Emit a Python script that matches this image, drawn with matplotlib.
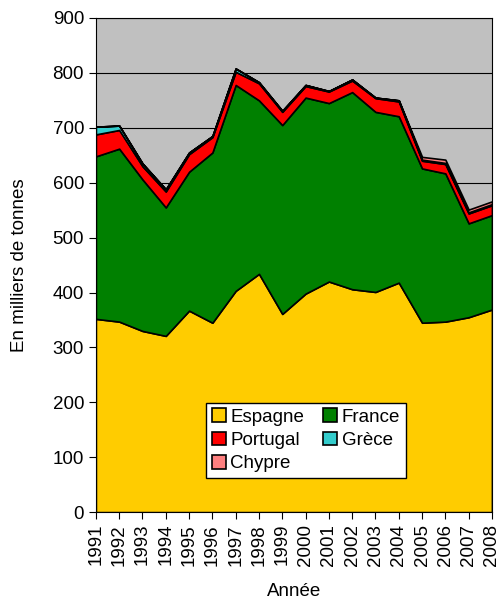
import numpy as np
import matplotlib.pyplot as plt

plt.rcParams['font.family'] = ['Liberation Sans', 'DejaVu Sans']

years = list(range(1991, 2009))
espagne = [352, 347, 330, 321, 367, 345, 403, 434, 361, 398, 420, 406, 401, 418, 345, 347, 355, 369]
france = [296, 315, 276, 234, 253, 310, 375, 316, 344, 357, 325, 359, 328, 303, 281, 270, 171, 172]
portugal = [40, 34, 24, 29, 32, 28, 24, 31, 24, 21, 21, 21, 25, 27, 14, 17, 18, 18]
grece = [14, 8, 5, 4, 3, 2, 6, 2, 2, 2, 1, 2, 1, 2, 2, 2, 2, 2]
chypre = [0, 0, 0, 0, 0, 0, 0, 0, 0, 0, 0, 0, 0, 0, 5, 6, 5, 5]

labels = ['Espagne', 'France', 'Portugal', 'Grèce', 'Chypre']
colors = ['#FFCC00', '#008000', '#FF0000', '#33CCCC', '#FF8080']

fig = plt.figure(figsize=(5.02, 5.99), dpi=100)
ax = fig.add_axes([0.191, 0.145, 0.789, 0.825])
ax.set_facecolor('#C0C0C0')

polys = ax.stackplot(years, espagne, france, portugal, grece, chypre,
                     colors=colors, edgecolor='black', linewidth=1.2, labels=labels)
ax.yaxis.grid(True, color='black', linewidth=0.8)
ax.set_axisbelow(True)

ax.set_xlim(1991, 2008)
ax.set_ylim(0, 900)
ax.set_yticks(range(0, 901, 100))
ax.set_xticks(years)
ax.set_xticklabels([str(y) for y in years], rotation=90)
ax.tick_params(axis='both', labelsize=13.5, direction='out', length=5)
ax.set_ylabel('En milliers de tonnes', fontsize=13.5, labelpad=18)
ax.set_xlabel('Année', fontsize=13.5, labelpad=12)

h = polys
order = [0, 2, 4, 1, 3]
leg = ax.legend([h[i] for i in order], [labels[i] for i in order], ncol=2,
                loc='lower left', bbox_to_anchor=(0.278, 0.069), fontsize=13.5,
                frameon=True, fancybox=False, edgecolor='black', framealpha=1,
                handlelength=0.75, handleheight=0.75, handletextpad=0.25,
                columnspacing=1.0, labelspacing=0.32, borderpad=0.3,
                borderaxespad=0)
leg.get_frame().set_linewidth(1.0)

fig.savefig('out.png', dpi=100)
